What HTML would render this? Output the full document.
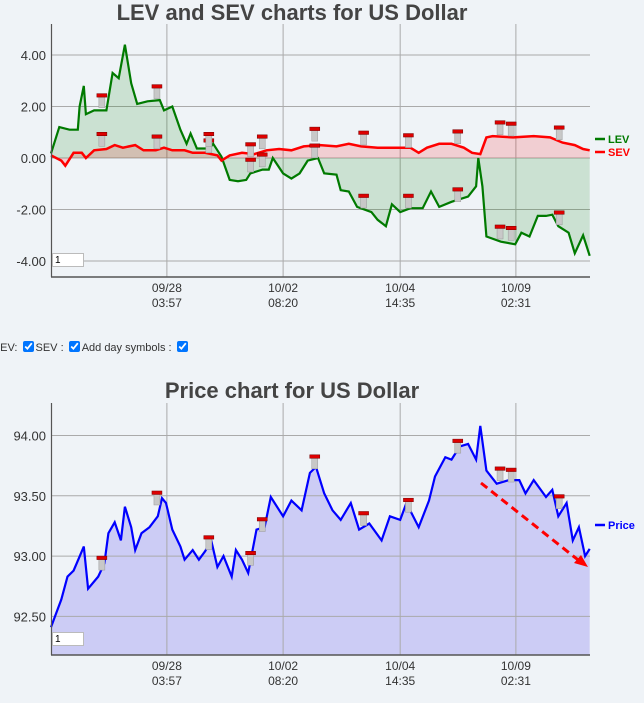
<!DOCTYPE html>
<html><head><meta charset="utf-8">
<style>
html,body{margin:0;padding:0;background:#eff3f7;width:644px;height:703px;overflow:hidden;font-family:"Liberation Sans",sans-serif;}
svg{position:absolute;left:0;top:0}
.opts{position:absolute;left:0;top:341px;font-size:11px;color:#333;white-space:nowrap}
.opts input{margin:0 2px;width:11px;height:11px;vertical-align:-1px}
.box{position:absolute;width:32px;height:14px;background:#fff;border:1px solid #bbb;font-size:10px;line-height:14px;padding-left:2px;box-sizing:border-box}
</style></head><body>
<svg id="c" width="644" height="703"></svg>
<div class="opts" style="margin-left:-6px">LEV: <input type="checkbox" checked>SEV : <input type="checkbox" checked>Add day symbols : <input type="checkbox" checked></div>
<div class="box" style="left:52px;top:253px">1</div>
<div class="box" style="left:52px;top:632px">1</div>
<script>
const levTime=[0,4.9,11,15.9,17,19.5,20.7,25.6,32.9,36.6,40.2,43.9,47.6,51.2,57.3,64.6,67.1,72,76.8,80.5,82.9,86.6,93.9,96.3,101.2,106.1,111,115.9,118.3,125.6,129.3,131.7,137.8,142.7,147.6,152.4,158.5,162.2,169.5,172,176.8,181.7,190.2,193.9,198.8,202.4,207.3,213.4,220.7,225.6,230.5,237.8,247.6,252.4,253.7,256.1,258.5,267.1,275.6,279.3,284.1,289,293.9,297.6,301.2,307.3,311,315.9,319.8];
const levValues=[0.18,1.2,1.1,1.1,2.0,2.8,1.7,1.85,1.85,3.3,3.1,4.4,2.9,2.1,2.2,2.25,1.85,2.0,1.1,0.55,0.95,0.37,0.37,0.55,0.05,-0.85,-0.9,-0.85,-0.6,-0.45,-0.45,0,-0.6,-0.8,-0.6,-0.1,0,-0.6,-0.65,-1.25,-1.3,-1.9,-2.1,-2.4,-2.65,-1.8,-2.1,-1.95,-1.95,-1.3,-1.9,-1.7,-1.5,-1.1,0,-1.1,-3.05,-3.25,-3.35,-2.9,-3.05,-2.25,-2.25,-2.2,-2.65,-2.9,-3.7,-3.0,-3.8];
const sevTime=[0,6.1,8.5,13.4,18.3,20.7,25.6,32.9,37.8,42.7,50,54.9,62.2,67.1,72,79.3,84.1,91.5,98.8,101.2,106.1,113.4,120.7,128,135.4,142.7,150,159.8,169.5,176.8,184.1,193.9,203.7,213.4,218.3,223.2,230.5,237.8,245.1,250,254.9,258.5,262.2,274.4,286.6,296.3,303.7,311,315.9,319.8];
const sevValues=[0.1,-0.1,-0.3,0.2,0.2,0,0.3,0.35,0.5,0.4,0.5,0.3,0.3,0.4,0.3,0.3,0.2,0.2,0.1,-0.1,0.1,0.2,0.15,0.3,0.35,0.3,0.45,0.5,0.45,0.55,0.45,0.4,0.4,0.4,0.2,0.4,0.55,0.55,0.4,0.2,0.15,0.8,0.85,0.8,0.85,0.8,0.6,0.5,0.35,0.3];
const priceTime=[0,2.4,6.1,9.8,13.4,17.1,19.5,22,28,31.7,34.1,37.8,41.5,43.9,47.6,50,53.7,58.5,63.4,65.9,68.3,72,76.8,79.3,84.1,87.8,91.5,95.1,98.8,102.4,107.3,109.8,113.4,117.1,122,126.8,130.5,137.8,142.7,148.8,153.7,157.3,162.2,167.1,172,178,182.9,189,196.3,201.2,207.3,211,218.3,224.4,228,234.1,237.8,242.7,247.6,252.4,254.9,258.5,264.6,271.9,278,281.7,286.6,293.9,297.6,301.2,306.1,309.8,313.4,317.1,319.8];
const priceValues=[92.41,92.5,92.64,92.83,92.88,93.0,93.08,92.73,92.83,92.94,93.19,93.28,93.13,93.41,93.24,93.05,93.19,93.24,93.33,93.48,93.44,93.22,93.08,92.97,93.05,92.97,93.04,93.13,92.91,93.0,92.83,93.05,92.97,92.86,93.22,93.24,93.49,93.33,93.46,93.38,93.69,93.74,93.52,93.38,93.3,93.44,93.22,93.27,93.13,93.33,93.3,93.44,93.24,93.46,93.66,93.82,93.8,93.91,93.93,93.8,94.08,93.71,93.6,93.63,93.63,93.52,93.63,93.49,93.55,93.33,93.44,93.13,93.24,93.0,93.06];
const dayTime=[30.2,62.9,93.7,118.5,125.4,156.6,185.6,212.2,241.5,266.6,273.2,301.7];
const levMarks=[1.0,0.9,0.75,0,0.2,0.55,-1.4,-1.4,-1.15,-2.6,-2.65,-2.05];
const sevMarks=[2.5,2.85,1.0,0.6,0.9,1.2,1.05,0.95,1.1,1.45,1.4,1.25];
const priceMarks=[93.0,93.54,93.17,93.04,93.32,93.84,93.37,93.48,93.97,93.74,93.73,93.51];
const xTicks=[68.8,137.8,207.3,276];
const xTickLabels=[["09/28","03:57"],["10/02","08:20"],["10/04","14:35"],["10/09","02:31"]];
const levTicks=[4,2,0,-2,-4];
const priceTicks=[94,93.5,93,92.5];

const svg=document.getElementById('c');const NS='http://www.w3.org/2000/svg';
function el(tag,attrs,parent){const e=document.createElementNS(NS,tag);for(const k in attrs)e.setAttribute(k,attrs[k]);(parent||svg).appendChild(e);return e;}
const X=t=>51+t/320*539;
const Y1=v=>158-v*25.75;
const Y2=v=>435.5+(94-v)*120.6;
function path(ts,vs,Y){return ts.map((t,i)=>(i?'L':'M')+X(t).toFixed(1)+','+Y(vs[i]).toFixed(1)).join('');}
function text(x,y,s,a,name){const t=el('text',a);t.textContent=s;t.setAttribute('x',x);t.setAttribute('y',y);

return t;}
function frame(top,bottom,ticks,Y,fmt,pre){
 const g=el('g',{});
 
 
 ticks.forEach(v=>{el('line',{x1:51,x2:590,y1:Y(v),y2:Y(v),stroke:'#aaa','stroke-width':1},g);
  text(46,Y(v)+5,fmt(v),{'font-size':13,'text-anchor':'end',fill:'#333','font-family':'Liberation Sans'},pre+'-y-tick');});
 xTicks.forEach((t,i)=>{el('line',{x1:X(t),x2:X(t),y1:top,y2:bottom,stroke:'#aaa'},g);
  text(X(t),bottom+15,xTickLabels[i][0],{'font-size':12,'text-anchor':'middle',fill:'#333'},pre+'-x-tick-date');
  text(X(t),bottom+30,xTickLabels[i][1],{'font-size':12,'text-anchor':'middle',fill:'#333'},pre+'-x-tick-time');});
}
function axes(top,bottom,pre){
 const a=el('line',{x1:51.5,x2:51.5,y1:top,y2:bottom,stroke:'#555','stroke-width':1.2});
 
 const b=el('line',{x1:51,x2:590,y1:bottom,y2:bottom,stroke:'#555','stroke-width':1.5});
 
}
function marker(x,y,name){const g=el('g',{});
 
 
 el('rect',{x:x-3,y:y+2,width:6,height:12,fill:'#c8c8c8',stroke:'#999','stroke-width':0.5},g);
 el('rect',{x:x-5,y:y,width:10,height:3.5,fill:'#d00',stroke:'#700','stroke-width':0.5},g);}

// Top chart
text(292,20,'LEV and SEV charts for US Dollar',{'font-size':22,'font-weight':'bold','text-anchor':'middle',fill:'#444'},'top-chart-title');
frame(24,277,levTicks,Y1,v=>v.toFixed(2),'top');
const lf=el('path',{d:path(levTime,levValues,Y1)+'L'+X(levTime[levTime.length-1])+','+Y1(0)+'L'+X(0)+','+Y1(0)+'Z',fill:'rgba(0,128,0,0.15)'});

const sf=el('path',{d:path(sevTime,sevValues,Y1)+'L'+X(sevTime[sevTime.length-1])+','+Y1(0)+'L'+X(0)+','+Y1(0)+'Z',fill:'rgba(255,0,0,0.15)'});

const ll=el('path',{d:path(levTime,levValues,Y1),fill:'none',stroke:'#007a00','stroke-width':2.2});

const sl=el('path',{d:path(sevTime,sevValues,Y1),fill:'none',stroke:'#f00','stroke-width':2.5});

dayTime.forEach((t,i)=>{marker(X(t),Y1(levMarks[i]),'lev-day-symbol');marker(X(t),Y1(sevMarks[i]),'sev-day-symbol');});
axes(24,277,'top');
el('line',{x1:595,x2:605,y1:139,y2:139,stroke:'#007a00','stroke-width':2.5});
text(608,143,'LEV',{'font-size':11,fill:'#007a00','font-weight':'bold'},'legend-lev');
el('line',{x1:595,x2:605,y1:152,y2:152,stroke:'#f00','stroke-width':2.5});
text(608,156,'SEV',{'font-size':11,fill:'#f00','font-weight':'bold'},'legend-sev');

// Price chart
text(292,398,'Price chart for US Dollar',{'font-size':22,'font-weight':'bold','text-anchor':'middle',fill:'#444'},'price-chart-title');
const pf=el('path',{d:path(priceTime,priceValues,Y2)+'L'+X(priceTime[priceTime.length-1])+',655L'+X(0)+',655Z',fill:'#ccccf5'});

frame(403,655,priceTicks,Y2,v=>v.toFixed(2),'price');
const pl=el('path',{d:path(priceTime,priceValues,Y2),fill:'none',stroke:'#00f','stroke-width':2.2});

dayTime.forEach((t,i)=>marker(X(t),Y2(priceMarks[i]),'price-day-symbol'));
axes(403,655,'price');
const ar=el('line',{x1:481,y1:483,x2:582,y2:563,stroke:'#f00','stroke-width':3,'stroke-dasharray':'8,5'});

el('path',{d:'M588,567 L574,563 L581,555 Z',fill:'#f00'});
el('line',{x1:595,x2:605,y1:525,y2:525,stroke:'#00f','stroke-width':2.5});
text(608,529,'Price',{'font-size':11,fill:'#00f','font-weight':'bold'},'legend-price');
</script>
</body></html>
